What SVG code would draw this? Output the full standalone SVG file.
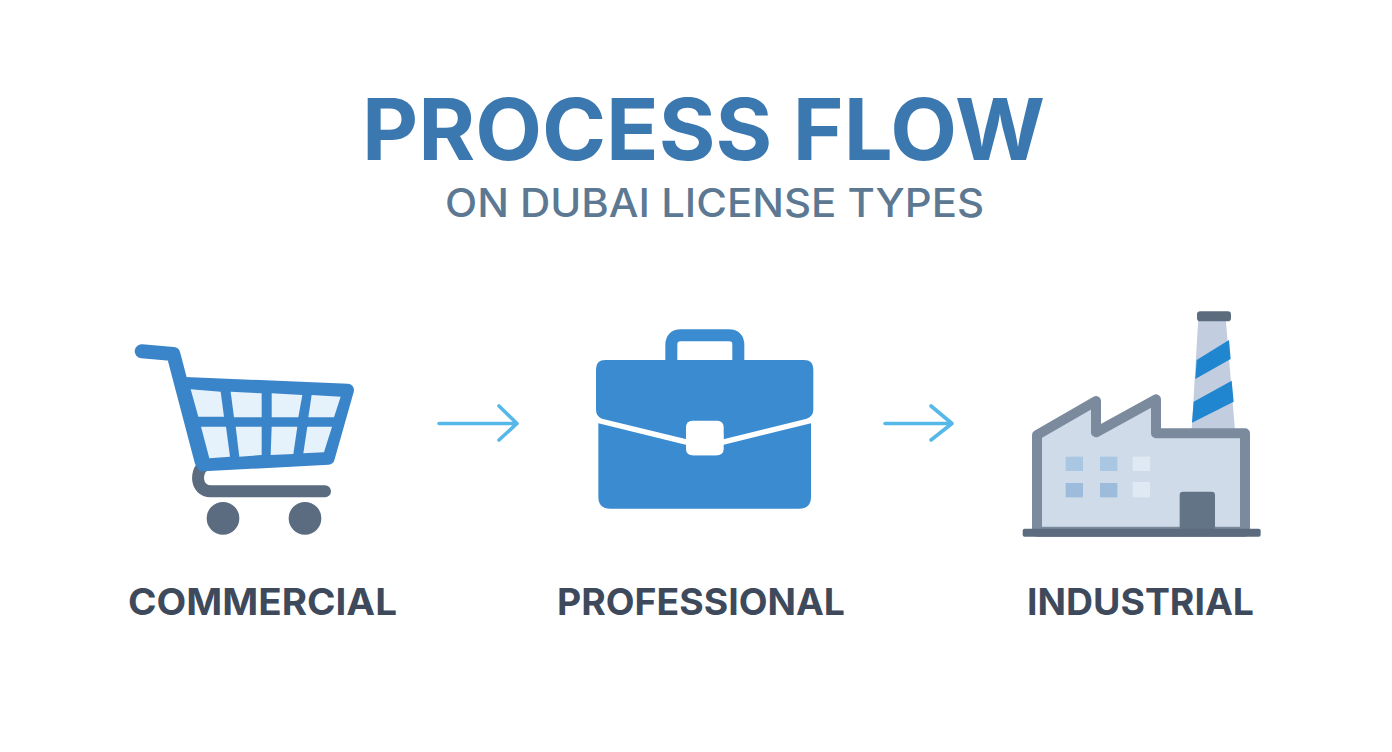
<svg xmlns="http://www.w3.org/2000/svg" width="1392" height="752" viewBox="0 0 1392 752">
<defs>
<style>
text{font-family:Inter,"Open Sans","Liberation Sans",sans-serif;text-anchor:start}
.title{font-size:85px;font-weight:700;fill:#3c78b0}
.sub{font-size:39px;font-weight:500;fill:#5c7892}
.lab{font-size:37px;font-weight:700;fill:#3e4a5c}
.pane{fill:#e6f2fb}
.arrow{fill:none;stroke:#56b8e8;stroke-width:3.6;stroke-linecap:round;stroke-linejoin:round}
</style>
</defs>
<rect width="1392" height="752" fill="#ffffff"/>
<g id="heading">
<text class="title" x="362" y="160" textLength="683" lengthAdjust="spacingAndGlyphs">PROCESS FLOW</text>
<text class="sub" x="445" y="217" textLength="539" lengthAdjust="spacingAndGlyphs">ON DUBAI LICENSE TYPES</text>
</g>
<g id="commercial">
<g transform="translate(120 330) scale(.33333)">
<path d="M248 410C228 425 225 482 272 484H615" fill="none" stroke="#5b6b80" stroke-width="36" stroke-linecap="round"/>
<circle cx="309" cy="565" r="49" fill="#5b6b80"/>
<circle cx="555" cy="565" r="49" fill="#5b6b80"/>
<path d="M65 64L160 72L245 395" fill="none" stroke="#3a85c9" stroke-width="42" stroke-linecap="round" stroke-linejoin="round"/>
<path d="M195 160L683 180L625 385L250 405Z" fill="#3a85c9" stroke="#3a85c9" stroke-width="38" stroke-linejoin="round"/>
<g class="pane">
<path d="M212 178L302 185L312 260H235Z"/><path d="M332 185L425 190V262H342Z"/><path d="M455 190L547 195L535 262H455Z"/><path d="M575 195L662 200L642 262H565Z"/>
<path d="M243 290H318L330 380L268 385Z"/><path d="M347 290H425V375L358 380Z"/><path d="M455 290H532L520 372L452 375Z"/><path d="M562 290H636L612 367L550 370Z"/>
</g>
</g>
<text class="lab" x="128" y="615" textLength="269" lengthAdjust="spacingAndGlyphs">COMMERCIAL</text>
</g>
<g id="professional">
<g transform="translate(580 320) scale(.33333)">
<path d="M274 125V75Q274 46 303 46H446Q475 46 475 75V125" fill="none" stroke="#3a8bd0" stroke-width="36"/>
<path d="M48 148Q48 120 76 120H672Q700 120 700 148V268Q700 290 680 296L430 358V340L320 340V358L66 296Q48 290 48 268Z" fill="#3a8bd0"/>
<path d="M55 310L320 375V385Q320 406 340 406H408Q428 406 428 385V375L693 310V530Q693 566 657 566H91Q55 566 55 530Z" fill="#3a8bd0"/>
<rect x="318" y="302" width="113" height="104" rx="18" fill="#ffffff"/>
</g>
<text class="lab" x="557" y="615" textLength="288" lengthAdjust="spacingAndGlyphs">PROFESSIONAL</text>
</g>
<g id="industrial">
<g transform="translate(1015 305) scale(.33333)">
<path d="M550 40H632L660 375H530Z" fill="#c2cee0"/>
<path d="M545 165L642 105L647 162L541 222Z" fill="#1f86cf"/>
<path d="M536 290L650 227L656 290L531 353Z" fill="#1f86cf"/>
<rect x="546" y="19" width="102" height="30" rx="10" fill="#5d6b7e"/>
<path d="M66 390L243 288V382L423 283V385H690V680H66Z" fill="#cfdbe9" stroke="#7b8a9c" stroke-width="30" stroke-linejoin="round"/>
<rect x="152" y="455" width="52" height="43" fill="#a9c6e2"/><rect x="255" y="455" width="52" height="43" fill="#a9c6e2"/><rect x="353" y="455" width="52" height="43" fill="#dfe9f4"/>
<rect x="152" y="534" width="52" height="43" fill="#9dbcdc"/><rect x="255" y="534" width="52" height="43" fill="#9dbcdc"/><rect x="353" y="531" width="52" height="46" fill="#dfe9f4"/>
<path d="M494 672V570Q494 560 504 560H590Q600 560 600 570V672Z" fill="#647487"/>
<rect x="23" y="671" width="714" height="24" rx="6" fill="#5d6b7e"/>
</g>
<text class="lab" x="1027" y="615" textLength="227" lengthAdjust="spacingAndGlyphs">INDUSTRIAL</text>
</g>
<g id="connectors">
<path class="arrow" d="M439 423.500H517M499 406L517 423.500L499 440"/>
<path class="arrow" d="M885 423.500H952M931 406L952 423.500L931 440"/>
</g>
</svg>
